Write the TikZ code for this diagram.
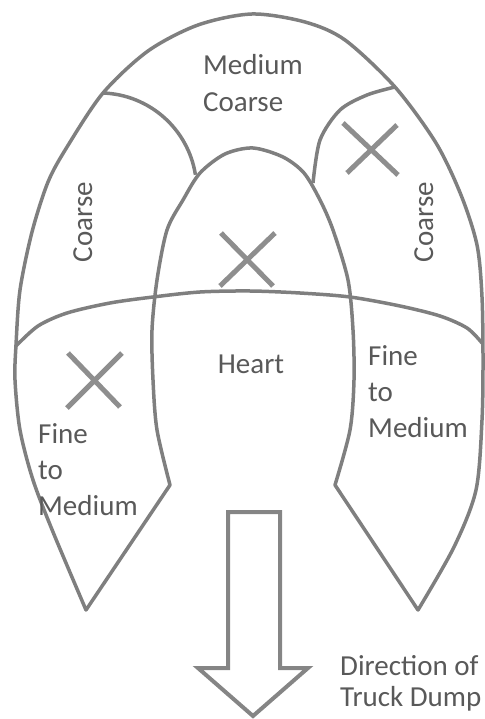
\documentclass[tikz,border=0pt]{standalone}
\usepackage{fontspec}
\setmainfont{Carlito}
\definecolor{linegray}{HTML}{7F7F7F}
\definecolor{xgray}{HTML}{8E8E8E}
\definecolor{txtgray}{HTML}{595959}
\tikzset{
  outline/.style={draw=linegray, line width=3.5pt, line join=round},
  xmark/.style={draw=xgray, line width=5pt},
  blockarrow/.style={draw=linegray!95, line width=4pt, line join=miter},
  lbl/.style={text=txtgray, inner sep=0pt, font=\fontsize{29}{36}\selectfont},
}
\begin{document}
\begin{tikzpicture}[x=1pt,y=-1pt]
\useasboundingbox (0,0) rectangle (484,719);
% outer egg with the two lobes and the heart
\draw[outline] plot[smooth] coordinates {(86,610) (53,532) (33,480) (20,430) (15,380) (16,345) (20,290) (32,232) (48,182) (67,147) (103,93) (148,51) (198,25) (252,14) (305,22) (345,40) (395,87) (436,143) (461,195) (477,245) (482,297) (483,360) (482,420) (476,490) (454,547) (418,610)}
  -- plot[smooth] coordinates {(335,485) (350,430) (354,380) (353,330) (348,280) (333,230) (320,200) (304,173) (283,157) (253,148) (225,154) (200,173) (183,200) (167,230) (157,280) (152,330) (153,380) (157,430) (170,485)} -- cycle;
% cross curve
\draw[outline] plot[smooth] coordinates {(16,346) (38,326) (67,313) (110,303) (153,297) (200,292) (250,291) (300,293) (350,297) (400,306) (440,316) (467,328) (482,343)};
% arcs of the top zone
\draw[outline] (103,93) arc[start angle=-88, end angle=-9, radius=97];
\draw[outline] plot[smooth] coordinates {(395,87) (367,95) (340,110) (320,140) (313,183)};
% crosses
\draw[xmark] (343,123) -- (398,175) (397,125) -- (347,173);
\draw[xmark] (221,233) -- (273,286) (275,233) -- (220,286);
\draw[xmark] (68,353) -- (120,407) (122,353) -- (67,408);
% block arrow
\draw[blockarrow] (228,512) -- (280,512) -- (280,668) -- (308,668) -- (253,716) -- (198,668) -- (228,668) -- cycle;
% labels
\node[lbl, anchor=base west, font=\fontsize{29}{37}\selectfont] (mc) at (203,75) {\begin{tabular}[t]{@{}l@{}}Medium\\Coarse\end{tabular}};
\node[lbl, anchor=base, rotate=90] (cl) at (92,222) {Coarse};
\node[lbl, anchor=base, rotate=90] (cr) at (433,222) {Coarse};
\node[lbl, anchor=base] (heart) at (251,373) {Heart};
\node[lbl, anchor=base west] (fr) at (368,365) {\begin{tabular}[t]{@{}l@{}}Fine\\to\\Medium\end{tabular}};
\node[lbl, anchor=base west] (fl) at (38,443) {\begin{tabular}[t]{@{}l@{}}Fine\\to\\Medium\end{tabular}};
\node[lbl, anchor=base west, font=\fontsize{29}{31}\selectfont] (dir) at (340,675) {\begin{tabular}[t]{@{}l@{}}Direction of\\Truck Dump\end{tabular}};
\end{tikzpicture}
\end{document}
